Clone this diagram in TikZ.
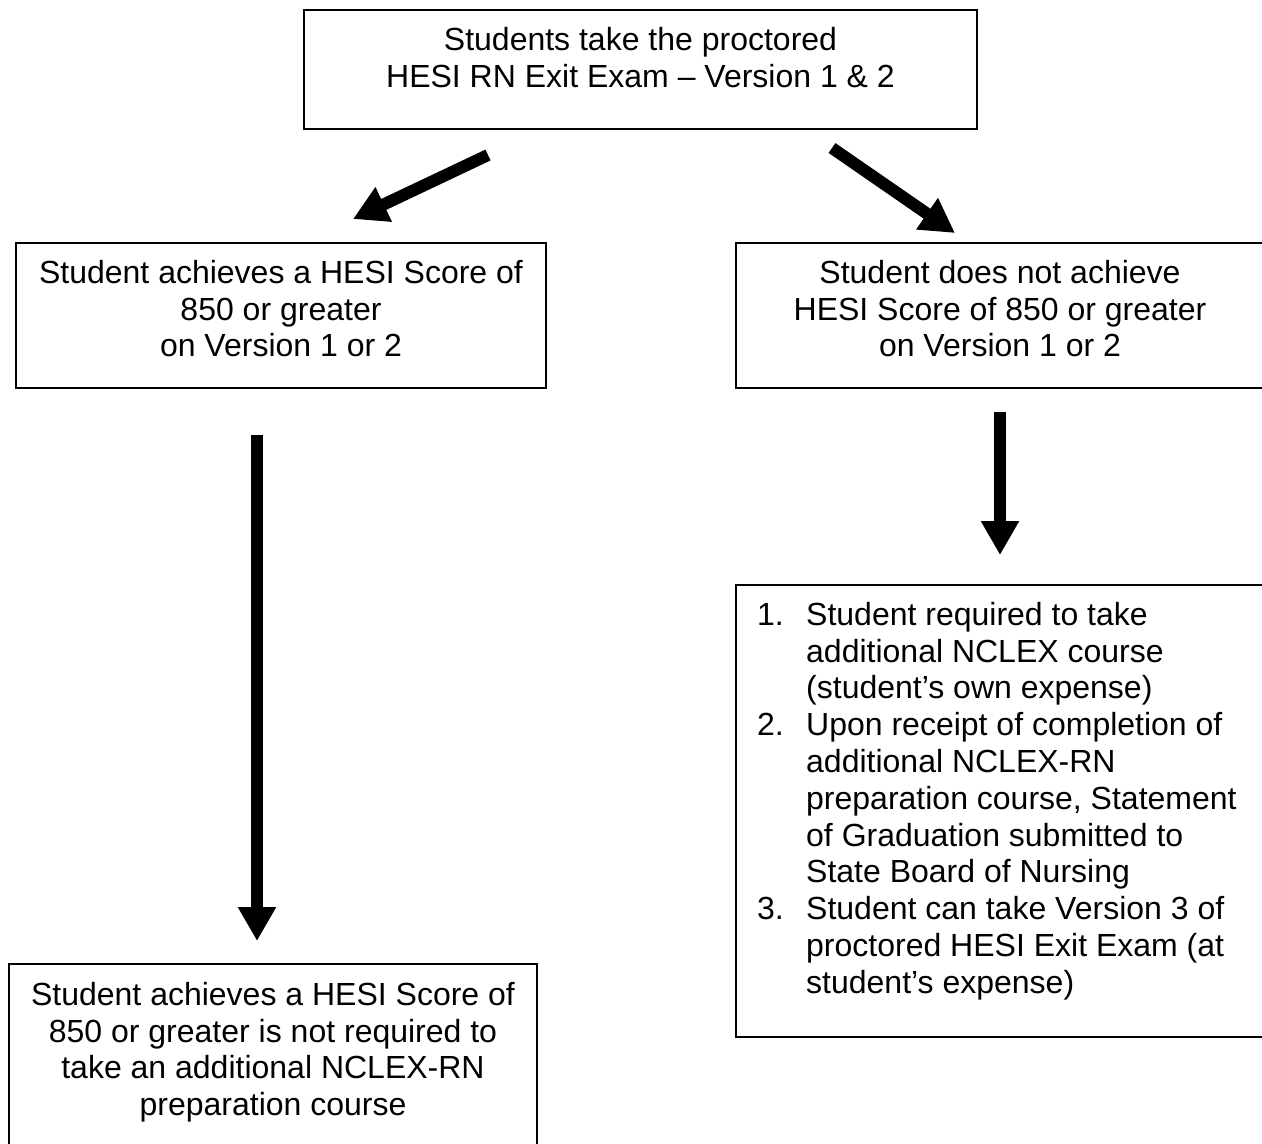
\documentclass[tikz,border=0pt]{standalone}
\usepackage{fontspec}
\setmainfont{Liberation Sans}
\usetikzlibrary{arrows.meta}
\begin{document}
\begin{tikzpicture}[x=1pt,y=-1pt,
  box/.style={draw=black, line width=1.5pt, rectangle, inner sep=0pt},
  txt/.style={inner sep=0pt, font=\fontsize{32pt}{36.8pt}\selectfont, align=center, anchor=north},
  listtxt/.style={inner sep=0pt, font=\fontsize{32pt}{36.8pt}\selectfont, align=left, anchor=north west},
  bigarrow/.style={line width=12pt, -{Triangle[width=36pt,length=34pt]}}
]
\useasboundingbox (0,0) rectangle (1262,1144);

% boxes
\node[box, minimum width=673pt, minimum height=119pt] (top) at (640.5,69.5) {};
\node[box, minimum width=530pt, minimum height=145pt] (pass) at (281,315.5) {};
\node[box, minimum width=530pt, minimum height=145pt] (fail) at (1001,315.5) {};
\node[box, minimum width=530pt, minimum height=452pt] (steps) at (1001,811) {};
\node[box, minimum width=528pt, minimum height=200pt] (done) at (273,1064) {};

% texts
\node[txt] (toptxt) at (640.5,24.24) {\strut Students take the proctored\\\strut HESI RN Exit Exam \textendash{} Version 1 \& 2};
\node[txt] (passtxt) at (281,257.24) {\strut Student achieves a HESI Score of\\\strut 850 or greater\\\strut on Version 1 or 2};
\node[txt] (failtxt) at (1000,257.24) {\strut Student does not achieve\\\strut HESI Score of 850 or greater\\\strut on Version 1 or 2};
\node[listtxt] (stepstxt) at (757,599.24) {%
\strut\makebox[49pt][l]{1.}Student required to take\\
\strut\hspace*{49pt}additional NCLEX course\\
\strut\hspace*{49pt}(student’s own expense)\\
\strut\makebox[49pt][l]{2.}Upon receipt of completion of\\
\strut\hspace*{49pt}additional NCLEX-RN\\
\strut\hspace*{49pt}preparation course, Statement\\
\strut\hspace*{49pt}of Graduation submitted to\\
\strut\hspace*{49pt}State Board of Nursing\\
\strut\makebox[49pt][l]{3.}Student can take Version 3 of\\
\strut\hspace*{49pt}proctored HESI Exit Exam (at\\
\strut\hspace*{49pt}student’s expense)};
\node[txt] (donetxt) at (273,979.24) {\strut Student achieves a HESI Score of\\\strut 850 or greater is not required to\\\strut take an additional NCLEX-RN\\\strut preparation course};

% arrow end points
\coordinate (da1) at (488,155);
\coordinate (da2) at (353,219);
\coordinate (db1) at (832,148);
\coordinate (db2) at (955,233);
\coordinate (la1) at (257,435);
\coordinate (la2) at (257,941);
\coordinate (ra1) at (1000,412);
\coordinate (ra2) at (1000,555);

\draw[bigarrow] (da1) -- (da2);
\draw[bigarrow] (db1) -- (db2);
\draw[bigarrow] (la1) -- (la2);
\draw[bigarrow] (ra1) -- (ra2);
\end{tikzpicture}
\end{document}
